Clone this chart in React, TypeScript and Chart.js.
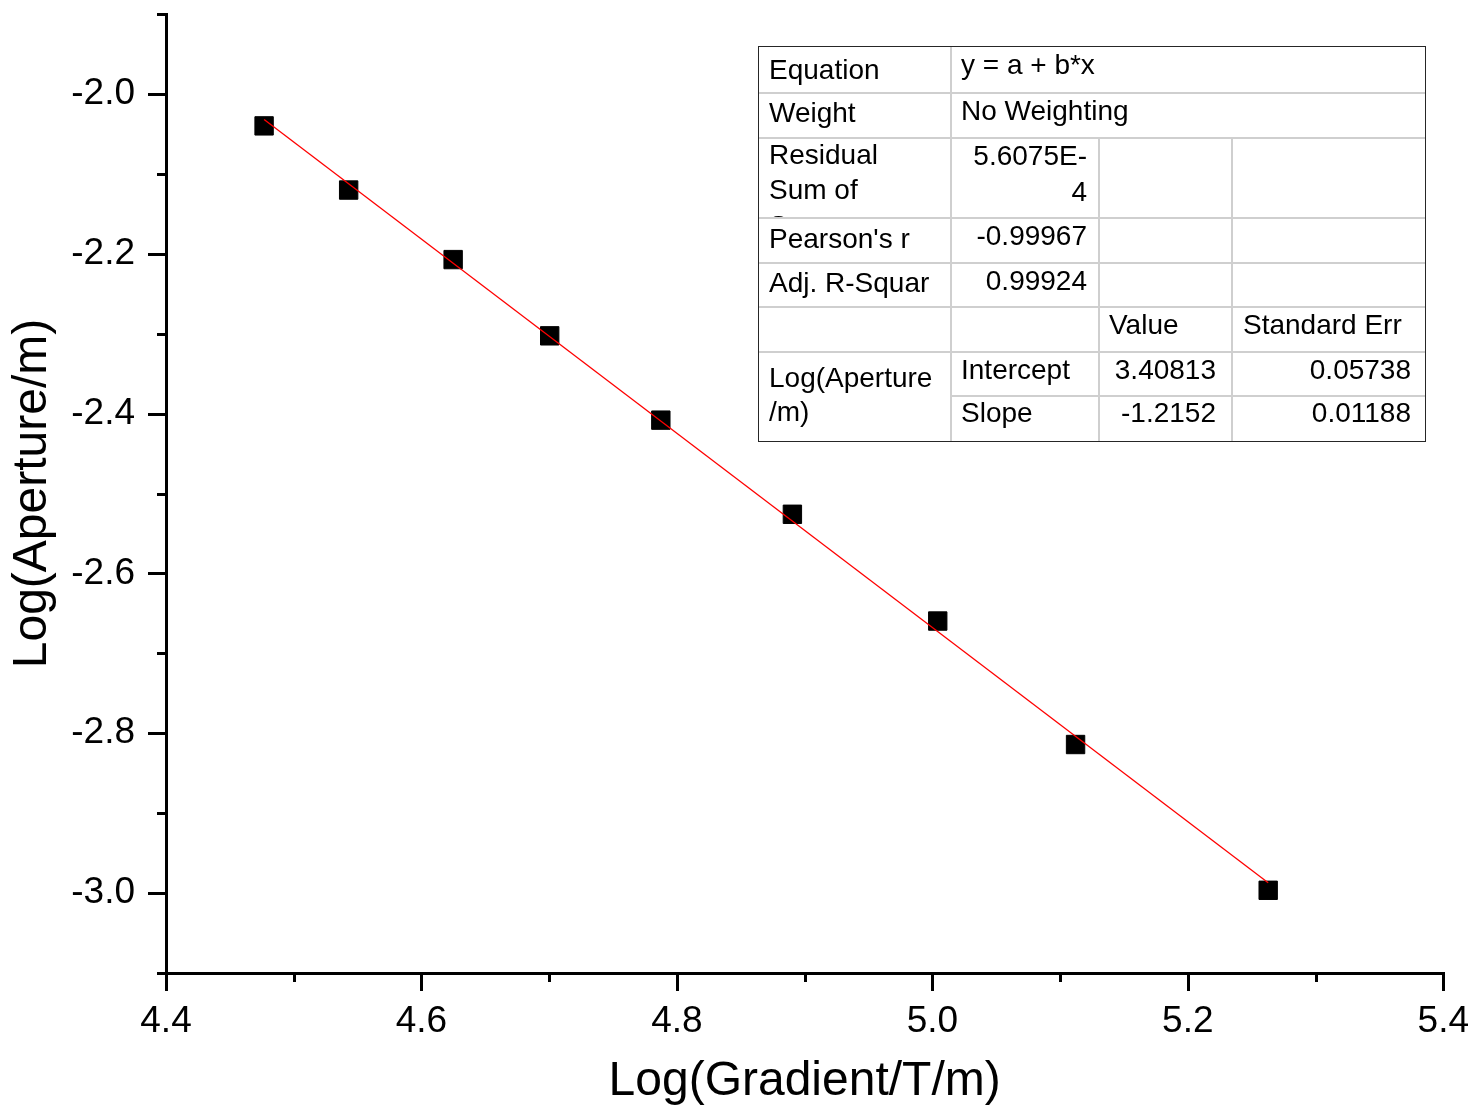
import React, { useEffect, useRef } from "react";
import { Chart, registerables } from "chart.js";

Chart.register(...registerables);

// ---- data ----
const gradientLog = [4.4768, 4.543, 4.6248, 4.7004, 4.7874, 4.8904, 5.0042, 5.1121, 5.2629];
const apertureLog = [-2.04, -2.1203, -2.2073, -2.3027, -2.4082, -2.526, -2.6596, -2.8141, -2.9965];
const fitLineX = [4.4768, 5.2629];
const fitLineY = [-2.032, -2.987];

const xTickLabels = ["4.4", "4.6", "4.8", "5.0", "5.2", "5.4"];
const yTickLabels = ["-2.0", "-2.2", "-2.4", "-2.6", "-2.8", "-3.0"];
const xTitle = "Log(Gradient/T/m)";
const yTitle = "Log(Aperture/m)";

// fit report table
const statLabels = ["Equation", "Weight", "Pearson's r", "Adj. R-Squar"];
const statValues = ["y = a + b*x", "No Weighting", "-0.99967", "0.99924"];
const residualLabelLines = ["Residual", "Sum of", "Squares"];
const residualValueLines = ["5.6075E-", "4"];
const paramHeaders = ["Value", "Standard Err"];
const paramNames = ["Intercept", "Slope"];
const paramValues = ["3.40813", "-1.2152"];
const paramErrors = ["0.05738", "0.01188"];
const dependentLines = ["Log(Aperture", "/m)"];

const FONT = '"Liberation Sans", Arial, Helvetica, sans-serif';

const isMajor = (v: number) => Math.round(v * 10) % 2 === 0;
const labelFor = (v: number, labels: string[]) => {
  const s = v.toFixed(1);
  return labels.includes(s) ? s : "";
};

const axisTicksPlugin = {
  id: "axisTicks",
  afterDraw(chart: any) {
    const { ctx, chartArea, scales } = chart;
    ctx.save();
    ctx.strokeStyle = "#000";
    ctx.lineWidth = 3;
    ctx.lineCap = "butt";
    scales.x.ticks.forEach((t: any) => {
      const px = Math.round(scales.x.getPixelForValue(t.value)) + 0.5;
      const len = isMajor(t.value) ? 18 : 9;
      ctx.beginPath();
      ctx.moveTo(px, chartArea.bottom);
      ctx.lineTo(px, chartArea.bottom + len);
      ctx.stroke();
    });
    scales.y.ticks.forEach((t: any) => {
      const py = Math.round(scales.y.getPixelForValue(t.value)) + 0.5;
      const len = isMajor(t.value) ? 18 : 9;
      ctx.beginPath();
      ctx.moveTo(chartArea.left, py);
      ctx.lineTo(chartArea.left - len, py);
      ctx.stroke();
    });
    ctx.restore();
  },
};

// table geometry
const rowEdges = [47, 93, 138, 218, 263, 307, 352, 396, 441];
const colEdges = [759, 951, 1099, 1232, 1425];
const LINE = "#cfcfcf";
const OUTER = "#262626";

type TextProps = { text: string; x: number; cy: number; align?: "left" | "right" };
const CellText = ({ text, x, cy, align = "left" }: TextProps) => {
  const style: React.CSSProperties = {
    position: "absolute",
    top: cy - 17,
    height: 35,
    lineHeight: "35px",
    fontSize: 28,
    fontFamily: FONT,
    color: "#000",
    whiteSpace: "nowrap",
  };
  if (align === "left") style.left = x;
  else style.right = 1475 - x;
  return <div style={style}>{text}</div>;
};

const FitTable = () => {
  const [c0, c1, c2, c3, c4] = colEdges;
  const hLines = [
    { y: rowEdges[1], x1: c0, x2: c4 },
    { y: rowEdges[2], x1: c0, x2: c4 },
    { y: rowEdges[3], x1: c0, x2: c4 },
    { y: rowEdges[4], x1: c0, x2: c4 },
    { y: rowEdges[5], x1: c0, x2: c4 },
    { y: rowEdges[6], x1: c0, x2: c4 },
    { y: rowEdges[7], x1: c1, x2: c4 },
  ];
  const vLines = [
    { x: c1, y1: rowEdges[0], y2: rowEdges[8] },
    { x: c2, y1: rowEdges[2], y2: rowEdges[8] },
    { x: c3, y1: rowEdges[2], y2: rowEdges[8] },
  ];
  const clipTop = rowEdges[2] + 1;
  return (
    <div>
      <div style={{ position: "absolute", left: colEdges[0], top: clipTop, width: c1 - c0, height: rowEdges[3] - 0.75 - clipTop, overflow: "hidden" }}>
        {residualLabelLines.map((t, i) => (
          <div
            key={t}
            style={{ position: "absolute", left: 10, top: 153.7 - 17 - clipTop + i * 35.5, lineHeight: "35px", height: 35, fontSize: 28, fontFamily: FONT, whiteSpace: "nowrap", color: "#000" }}
          >
            {t}
          </div>
        ))}
      </div>
      {hLines.map((l, i) => (
        <div key={"h" + i} style={{ position: "absolute", left: l.x1, top: l.y - 0.75, width: l.x2 - l.x1, height: 1.5, background: LINE }} />
      ))}
      {vLines.map((l, i) => (
        <div key={"v" + i} style={{ position: "absolute", left: l.x - 0.75, top: l.y1, width: 1.5, height: l.y2 - l.y1, background: LINE }} />
      ))}
      <div
        style={{
          position: "absolute",
          left: c0 - 1,
          top: rowEdges[0] - 1,
          width: c4 - c0 + 2,
          height: rowEdges[8] - rowEdges[0] + 2,
          border: `1.5px solid ${OUTER}`,
          boxSizing: "border-box",
        }}
      />
      <CellText text={statLabels[0]} x={c0 + 10} cy={69} />
      <CellText text={statValues[0]} x={c1 + 10} cy={64} />
      <CellText text={statLabels[1]} x={c0 + 10} cy={112} />
      <CellText text={statValues[1]} x={c1 + 10} cy={110} />
      <CellText text={residualValueLines[0]} x={c2 - 12} cy={155} align="right" />
      <CellText text={residualValueLines[1]} x={c2 - 12} cy={191} align="right" />
      <CellText text={statLabels[2]} x={c0 + 10} cy={238} />
      <CellText text={statValues[2]} x={c2 - 12} cy={235} align="right" />
      <CellText text={statLabels[3]} x={c0 + 10} cy={282} />
      <CellText text={statValues[3]} x={c2 - 12} cy={280} align="right" />
      <CellText text={paramHeaders[0]} x={c2 + 10} cy={324} />
      <CellText text={paramHeaders[1]} x={c3 + 11} cy={324} />
      <CellText text={dependentLines[0]} x={c0 + 10} cy={377} />
      <CellText text={dependentLines[1]} x={c0 + 10} cy={411} />
      <CellText text={paramNames[0]} x={c1 + 10} cy={369} />
      <CellText text={paramValues[0]} x={c3 - 16} cy={369} align="right" />
      <CellText text={paramErrors[0]} x={c4 - 14} cy={369} align="right" />
      <CellText text={paramNames[1]} x={c1 + 10} cy={412} />
      <CellText text={paramValues[1]} x={c3 - 16} cy={412} align="right" />
      <CellText text={paramErrors[1]} x={c4 - 14} cy={412} align="right" />
    </div>
  );
};

export default function App() {
  const canvasRef = useRef<HTMLCanvasElement | null>(null);

  useEffect(() => {
    if (!canvasRef.current) return;
    const points = gradientLog.map((x, i) => ({ x, y: apertureLog[i] }));
    const fit = fitLineX.map((x, i) => ({ x, y: fitLineY[i] }));
    const chart = new Chart(canvasRef.current, {
      type: "scatter",
      data: {
        datasets: [
          {
            type: "line",
            label: "Linear Fit",
            data: fit,
            borderColor: "#ff0000",
            borderWidth: 1.3,
            pointRadius: 0,
            showLine: true,
            fill: false,
            order: 0,
          } as any,
          {
            label: "Log(Aperture/m)",
            data: points,
            pointStyle: "rect",
            pointRadius: 13,
            pointHoverRadius: 13,
            pointBackgroundColor: "#000",
            pointBorderColor: "#000",
            pointBorderWidth: 1,
            showLine: false,
            order: 1,
          },
        ],
      },
      options: {
        responsive: false,
        animation: false,
        events: [],
        layout: { padding: { top: 12.6, right: 31.7, bottom: 0, left: 0 } },
        plugins: { legend: { display: false }, tooltip: { enabled: false } },
        scales: {
          x: {
            type: "linear",
            min: 4.4,
            max: 5.4,
            afterFit: (s: any) => {
              s.height = 146;
              s.paddingLeft = 0;
              s.paddingRight = 0;
            },
            ticks: {
              stepSize: 0.1,
              autoSkip: false,
              maxRotation: 0,
              padding: 27,
              color: "#000",
              font: { family: FONT, size: 37 },
              callback: (v: any) => labelFor(Number(v), xTickLabels),
            },
            grid: { display: true, drawOnChartArea: false, drawTicks: false, lineWidth: 3, color: "#000" },
            border: { display: true, color: "#000", width: 3 },
            title: { display: true, text: xTitle, color: "#000", font: { family: FONT, size: 48 }, padding: { top: 0, bottom: 8 } },
          },
          y: {
            type: "linear",
            min: -3.1,
            max: -1.9,
            afterFit: (s: any) => {
              s.width = 166;
              s.paddingTop = 0;
              s.paddingBottom = 0;
            },
            ticks: {
              stepSize: 0.1,
              autoSkip: false,
              padding: 31,
              color: "#000",
              font: { family: FONT, size: 37 },
              callback: (v: any) => labelFor(Number(v), yTickLabels),
            },
            grid: { display: true, drawOnChartArea: false, drawTicks: false, lineWidth: 3, color: "#000" },
            border: { display: true, color: "#000", width: 3 },
            title: { display: true, text: yTitle, color: "#000", font: { family: FONT, size: 48 }, padding: { top: 4, bottom: 0 } },
          },
        },
      } as any,
      plugins: [axisTicksPlugin],
    });
    return () => chart.destroy();
  }, []);

  return (
    <div style={{ position: "fixed", left: 0, top: 0, width: 1475, height: 1119, background: "#fff", overflow: "hidden" }}>
      <canvas ref={canvasRef} width={1475} height={1119} style={{ display: "block", position: "absolute", left: 0, top: 0 }} />
      <FitTable />
    </div>
  );
}
